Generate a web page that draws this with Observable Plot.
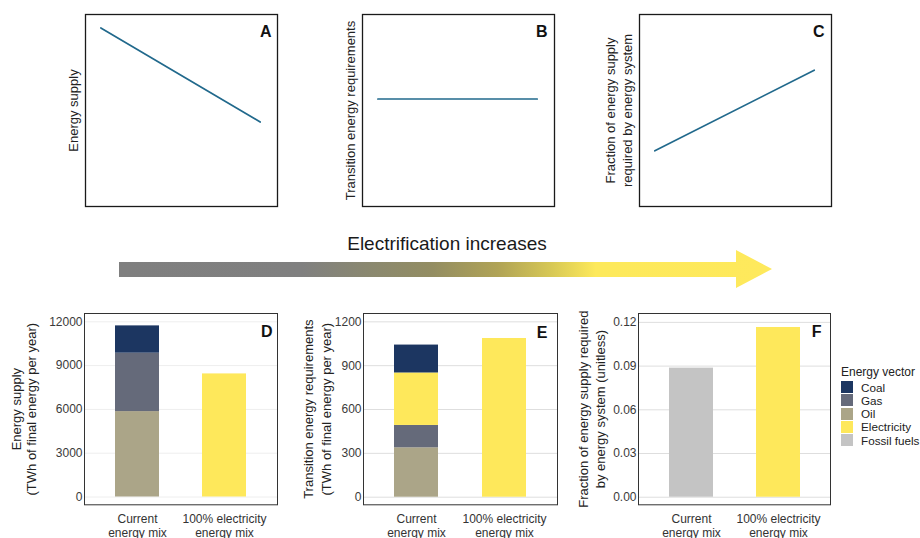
<!DOCTYPE html>
<html><head><meta charset="utf-8">
<script src="https://cdn.jsdelivr.net/npm/d3@7"></script>
<script src="https://cdn.jsdelivr.net/npm/@observablehq/plot@0.6"></script>
<style>
body{margin:0;background:#fff;}
#root{position:relative;width:920px;height:538px;overflow:hidden;font-family:"Liberation Sans",Arial,sans-serif;color:#222;background:#fff;}
.p{position:absolute;}
.p svg{overflow:visible;}
</style></head><body><div id="root"></div>
<script>
// ---- Conceptual panels (A, B, C) ----
const conceptX = [0.8, 9.1];
const supplyA = [9.3, 4.4];
const transitionB = [5.6, 5.6];
const fractionC = [2.9, 7.1];

// ---- Categories and colours ----
const mixes = ["Current\nenergy mix", "100% electricity\nenergy mix"];
const vectors = ["Coal", "Gas", "Oil", "Electricity", "Fossil fuels"];
const vectorColors = ["#1c3661", "#656a7a", "#aba588", "#fee85b", "#c4c4c4"];

// ---- D: energy supply (TWh of final energy per year), stacked bottom-up ----
const supplyMix = [mixes[0], mixes[0], mixes[0], mixes[1]];
const supplyVector = ["Oil", "Gas", "Coal", "Electricity"];
const supplyValue = [5850, 4000, 1870, 8430];
const supplyTicks = [0, 3000, 6000, 9000, 12000];

// ---- E: transition energy requirements ----
const transMix = [mixes[0], mixes[0], mixes[0], mixes[0], mixes[1]];
const transVector = ["Oil", "Gas", "Electricity", "Coal", "Electricity"];
const transValue = [338, 153, 359, 191, 1086];
const transTicks = [0, 300, 600, 900, 1200];

// ---- F: fraction of energy supply required by energy system ----
const fracMix = [mixes[0], mixes[1]];
const fracVector = ["Fossil fuels", "Electricity"];
const fracValue = [0.0886, 0.1165];
const fracTicks = [0, 0.03, 0.06, 0.09, 0.12];

const FONT = "Liberation Sans, Arial, sans-serif";
const root = document.getElementById("root");
function place(el, left, top) {
  const d = document.createElement("div");
  d.className = "p"; d.style.left = left + "px"; d.style.top = top + "px";
  d.appendChild(el); root.appendChild(d); return d;
}

function yTitle(label, lh, dx) {
  return Plot.text([label], {text: d => d, frameAnchor: "left", rotate: -90, textAnchor: "middle",
    lineAnchor: "top", lineHeight: lh, dx, fontSize: 13, fill: "#222"});
}

function topPanel(xs, ys, label, letter, frameLeft, frameRight, lh, dxLabel, dxLetter) {
  const w = frameRight - frameLeft;
  const p = Plot.plot({
    width: w, height: 215,
    marginLeft: 0, marginRight: 0, marginTop: 14, marginBottom: 9,
    x: {domain: [0, 10], axis: null},
    y: {domain: [0, 10], axis: null},
    style: {fontFamily: FONT, background: "transparent", overflow: "visible", color: "#222"},
    marks: [
      Plot.line(xs.map((x, i) => ({x, y: ys[i]})), {x: "x", y: "y", stroke: "#21698c", strokeWidth: 1.7}),
      Plot.frame({stroke: "#1a1a1a", strokeWidth: 1.3}),
      yTitle(label, lh, dxLabel),
      Plot.text([letter], {text: d => d, frameAnchor: "top-right", textAnchor: "end", lineAnchor: "top", dx: dxLetter, dy: 11, fontSize: 16, fontWeight: "bold", fill: "#111"})
    ]
  });
  place(p, frameLeft, 0);
}

topPanel(conceptX, supplyA, "Energy supply", "A", 85, 277, 1, -17, -6);
topPanel(conceptX, transitionB, "Transition energy requirements", "B", 362, 554, 1, -17, -7);
topPanel(conceptX, fractionC, "Fraction of energy supply\nrequired by energy system", "C", 639, 831, 1.28, -36, -7);

function barPanel(opts) {
  const {frameLeft, frameRight, mixArr, vecArr, valArr, ticks, domain, fmt, label, lh, dxLabel, letter, dxLetter, dyLetter, grid} = opts;
  const data = valArr.map((v, i) => ({mix: mixArr[i], vector: vecArr[i], value: v}));
  const w = frameRight - frameLeft;
  const p = Plot.plot({
    width: w, height: 238,
    marginLeft: 0, marginRight: 0, marginTop: 13, marginBottom: 238 - 204.3,
    x: {domain: mixes, paddingInner: 0.5, paddingOuter: 0.35, axis: null},
    y: {domain, label: null},
    color: {domain: vectors, range: vectorColors},
    style: {fontFamily: FONT, background: "transparent", overflow: "visible", color: "#222"},
    marks: [
      Plot.gridY(ticks, {stroke: grid, strokeOpacity: 1, strokeWidth: 1}),
      Plot.axisY(ticks, {tickSize: 0, tickPadding: 2, tickFormat: fmt, fontSize: 12, color: "#3a3a3a", label: null}),
      Plot.barY(data, {x: "mix", y: "value", fill: "vector"}),
      Plot.frame({stroke: "#333", strokeWidth: 1}),
      Plot.text(mixes, {text: d => d, x: d => d, frameAnchor: "bottom", lineAnchor: "top", lineHeight: 1.12, dy: 9, fontSize: 12, fill: "#333"}),
      yTitle(label, lh, dxLabel),
      Plot.text([letter], {text: d => d, frameAnchor: "top-right", textAnchor: "end", lineAnchor: "top", dx: dxLetter, dy: dyLetter, fontSize: 16, fontWeight: "bold", fill: "#111"})
    ]
  });
  place(p, frameLeft, 300);
}

barPanel({frameLeft: 84, frameRight: 277, mixArr: supplyMix, vecArr: supplyVector, valArr: supplyValue,
  ticks: supplyTicks, domain: [-534, 12568], fmt: d => String(d),
  label: "Energy supply\n(TWh of final energy per year)", lh: 1.15, dxLabel: -74,
  letter: "D", dxLetter: -5, dyLetter: 12, grid: "#eeeeee"});
barPanel({frameLeft: 363, frameRight: 557, mixArr: transMix, vecArr: transVector, valArr: transValue,
  ticks: transTicks, domain: [-52, 1257], fmt: d => String(d),
  label: "Transition energy requirements\n(TWh of final energy per year)", lh: 1.35, dxLabel: -63,
  letter: "E", dxLetter: -10, dyLetter: 13, grid: "#dedede"});
barPanel({frameLeft: 638, frameRight: 830, mixArr: fracMix, vecArr: fracVector, valArr: fracValue,
  ticks: fracTicks, domain: [-0.0052, 0.1261], fmt: d3.format(".2f"),
  label: "Fraction of energy supply required\nby energy system (unitless)", lh: 1.28, dxLabel: -62,
  letter: "F", dxLetter: -9, dyLetter: 12, grid: "#dedede"});

// Arrow with gradient
const arrow = document.createElement("div");
Object.assign(arrow.style, {
  position: "absolute", left: "119px", top: "250px", width: "653px", height: "38px",
  background: "linear-gradient(to right, #7f7f7f 0%, #808080 28%, #8a8870 38%, #938d62 48%, #b0a356 58%, #d6c755 66%, #fde95b 73%, #fee95c 100%)",
  clipPath: "polygon(0 12px, 617px 12px, 617px 0, 653px 19px, 617px 38px, 617px 27px, 0 27px)"
});
root.appendChild(arrow);

const title = document.createElement("div");
Object.assign(title.style, {
  position: "absolute", left: "247px", top: "234px", width: "400px", textAlign: "center",
  fontSize: "19px", lineHeight: "19px", color: "#1a1a1a", fontFamily: FONT
});
title.textContent = "Electrification increases";
root.appendChild(title);

// Legend
const legend = document.createElement("div");
Object.assign(legend.style, {position: "absolute", left: "841px", top: "365px", fontFamily: FONT, fontSize: "11.7px", color: "#222"});
const lt = document.createElement("div");
lt.textContent = "Energy vector";
Object.assign(lt.style, {lineHeight: "15px", height: "15.5px", fontSize: "12px"});
legend.appendChild(lt);
vectors.forEach((v, i) => {
  const row = document.createElement("div");
  Object.assign(row.style, {position: "relative", height: "13.3px", lineHeight: "13.3px", paddingLeft: "20px", whiteSpace: "nowrap"});
  const sw = document.createElement("span");
  Object.assign(sw.style, {position: "absolute", left: "0", top: "0.6px", width: "12px", height: "12px", background: vectorColors[i]});
  row.appendChild(sw);
  row.appendChild(document.createTextNode(v));
  legend.appendChild(row);
});
root.appendChild(legend);
</script>
</body></html>
